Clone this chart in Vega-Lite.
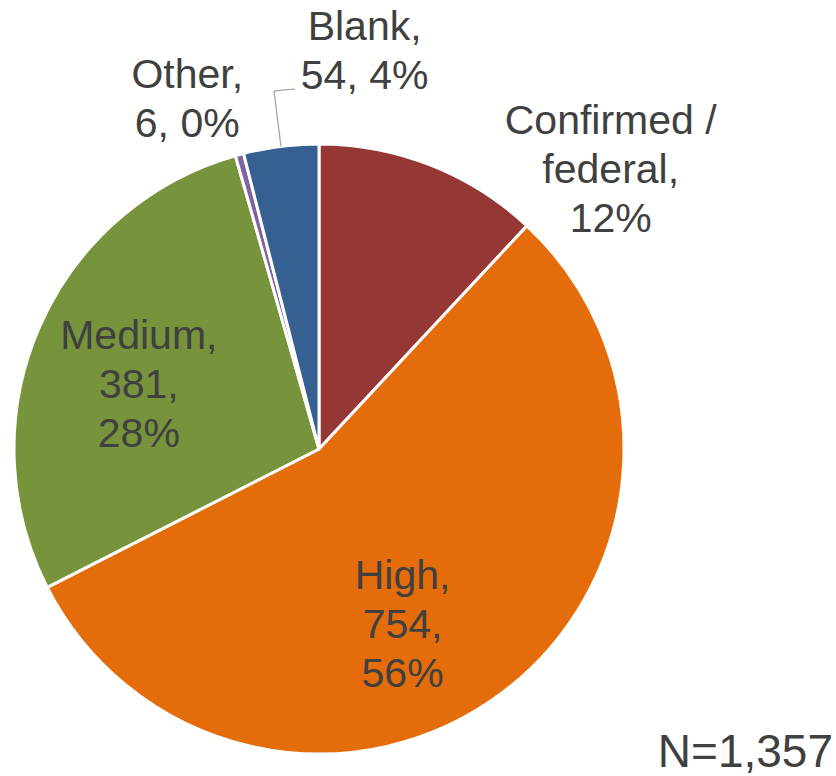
{
  "$schema": "https://vega.github.io/schema/vega-lite/v6.json",
  "width": 610,
  "height": 610,
  "autosize": {"type": "none"},
  "padding": {"left": 14, "top": 144, "right": 212, "bottom": 22},
  "background": "white",
  "config": {"view": {"stroke": null}, "text": {"font": "Liberation Sans"}},
  "datasets": {
    "slices": [
      {"cat": "Confirmed / federal", "count": 162, "k": 1, "label": "Confirmed /\nfederal,\n12%"},
      {"cat": "High", "count": 754, "k": 2, "label": "High,\n754,\n56%"},
      {"cat": "Medium", "count": 381, "k": 3, "label": "Medium,\n381,\n28%"},
      {"cat": "Other", "count": 6, "k": 4, "label": "Other,\n6, 0%"},
      {"cat": "Blank", "count": 54, "k": 5, "label": "Blank,\n54, 4%"}
    ],
    "note": [{"note": "N=1,357"}]
  },
  "data": {"name": "slices"},
  "resolve": {"scale": {"theta": "independent"}},
  "layer": [
    {
      "mark": {"type": "arc", "stroke": "white", "strokeWidth": 3},
      "encoding": {
        "theta": {"field": "count", "type": "quantitative", "stack": true},
        "order": {"field": "k", "type": "quantitative"},
        "color": {
          "field": "cat",
          "type": "nominal",
          "legend": null,
          "scale": {
            "domain": ["Confirmed / federal", "High", "Medium", "Other", "Blank"],
            "range": ["#953735", "#E46C0A", "#77933C", "#8064A2", "#376092"]
          }
        }
      }
    },
    {
      "mark": {"type": "arc", "radius": 305, "radius2": 361, "padAngle": 1, "fillOpacity": 0, "stroke": "#a6a6a6", "strokeWidth": 1.3},
      "encoding": {
        "theta": {"field": "count", "type": "quantitative", "stack": true},
        "order": {"field": "k", "type": "quantitative"},
        "strokeOpacity": {"condition": {"test": "datum.cat === 'Blank'", "value": 1}, "value": 0}
      }
    },
    {
      "mark": {"type": "arc", "radius": 360, "radius2": 361.3, "padAngle": 0.1356, "fill": "#a6a6a6", "strokeWidth": 0},
      "encoding": {
        "theta": {"field": "count", "type": "quantitative", "stack": true, "scale": {"range": [0.0291, 6.3123]}},
        "order": {"field": "k", "type": "quantitative"},
        "opacity": {"condition": {"test": "datum.cat === 'Blank'", "value": 1}, "value": 0}
      }
    },
    {
      "mark": {"type": "text", "radius": 365, "dx": 158, "dy": 13, "fontSize": 41, "lineHeight": 49, "lineBreak": "\n", "align": "center", "baseline": "middle", "color": "#404040"},
      "encoding": {
        "theta": {"field": "count", "type": "quantitative", "stack": true},
        "order": {"field": "k", "type": "quantitative"},
        "text": {"condition": {"test": "datum.cat === 'Confirmed / federal'", "field": "label"}, "value": ""}
      }
    },
    {
      "mark": {"type": "text", "radius": 192, "dx": -32, "dy": -25, "fontSize": 41, "lineHeight": 49, "lineBreak": "\n", "align": "center", "baseline": "middle", "color": "#404040"},
      "encoding": {
        "theta": {"field": "count", "type": "quantitative", "stack": true},
        "order": {"field": "k", "type": "quantitative"},
        "text": {"condition": {"test": "datum.cat === 'High'", "field": "label"}, "value": ""}
      }
    },
    {
      "mark": {"type": "text", "radius": 190, "dx": -6, "dy": -36, "fontSize": 41, "lineHeight": 49, "lineBreak": "\n", "align": "center", "baseline": "middle", "color": "#404040"},
      "encoding": {
        "theta": {"field": "count", "type": "quantitative", "stack": true},
        "order": {"field": "k", "type": "quantitative"},
        "text": {"condition": {"test": "datum.cat === 'Medium'", "field": "label"}, "value": ""}
      }
    },
    {
      "mark": {"type": "text", "radius": 371, "dx": -35, "dy": -14.5, "fontSize": 41, "lineHeight": 49, "lineBreak": "\n", "align": "center", "baseline": "middle", "color": "#404040"},
      "encoding": {
        "theta": {"field": "count", "type": "quantitative", "stack": true},
        "order": {"field": "k", "type": "quantitative"},
        "text": {"condition": {"test": "datum.cat === 'Other'", "field": "label"}, "value": ""}
      }
    },
    {
      "mark": {"type": "text", "radius": 388, "dx": 94, "dy": -36.5, "fontSize": 41, "lineHeight": 49, "lineBreak": "\n", "align": "center", "baseline": "middle", "color": "#404040"},
      "encoding": {
        "theta": {"field": "count", "type": "quantitative", "stack": true},
        "order": {"field": "k", "type": "quantitative"},
        "text": {"condition": {"test": "datum.cat === 'Blank'", "field": "label"}, "value": ""}
      }
    },
    {
      "data": {"name": "note"},
      "mark": {"type": "text", "align": "right", "baseline": "alphabetic", "dx": 209, "dy": 13, "fontSize": 46, "color": "#404040"},
      "encoding": {
        "x": {"value": "width"},
        "y": {"value": "height"},
        "text": {"field": "note"}
      }
    }
  ]
}
